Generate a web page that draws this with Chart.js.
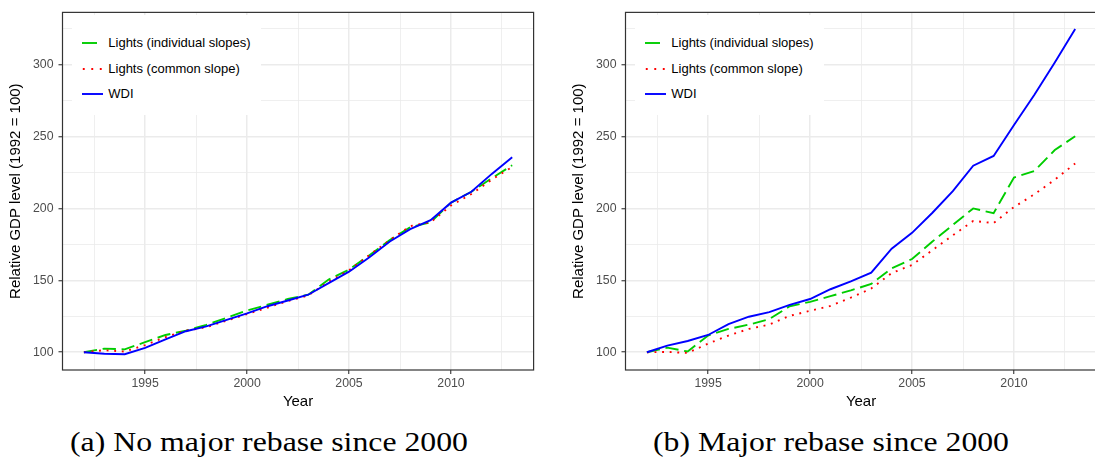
<!DOCTYPE html>
<html>
<head>
<meta charset="utf-8">
<script src="https://cdn.jsdelivr.net/npm/chart.js@4.4.0/dist/chart.umd.min.js"></script>
<style>
html,body{margin:0;padding:0;background:#fff;}
body{width:1095px;height:461px;overflow:hidden;position:relative;font-family:"Liberation Sans",Arial,sans-serif;}
.panel{position:absolute;top:0;height:412px;}
.legend{position:absolute;background:#fff;}
.key{position:absolute;}
.ltext{position:absolute;font-size:13px;line-height:16px;color:#000;white-space:nowrap;}
.cap{position:absolute;font-family:"Liberation Serif","Times New Roman",serif;font-size:27px;line-height:27px;color:#000;white-space:nowrap;transform-origin:0 0;}
</style>
</head>
<body>
<div class="panel" id="pA" style="left:0;width:550px;"><canvas id="cA" width="550" height="412"></canvas></div>
<div class="panel" id="pB" style="left:550px;width:548px;"><canvas id="cB" width="548" height="412"></canvas></div>
<div class="cap" id="capA" style="left:70px;top:429px;">(a) No major rebase since 2000</div>
<div class="cap" id="capB" style="left:653px;top:429px;">(b) Major rebase since 2000</div>
<script>
// ---- data ----
const years = [1992,1993,1994,1995,1996,1997,1998,1999,2000,2001,2002,2003,2004,2005,2006,2007,2008,2009,2010,2011,2012,2013];

// Panel (a): No major rebase since 2000
const wdiA = [100,98.9,98.6,103,109,114.6,118,122.5,127,132,136,140,148,156,166,177,185.6,191.8,204,211.6,224,235.6];
const indA = [100,102.5,102,107,112,115,119,124,129,133,137,140,150.5,157.5,167.5,178,187,190.4,204,211.6,221,230];
const comA = [100,101.4,100.5,105,110.5,115,117.4,122,126.5,131,135.6,139.5,149,157,167.6,178,187.7,190.4,202,210,220,228.8];

// Panel (b): Major rebase since 2000
const wdiB = [100,104.6,107.8,112,119.6,124.7,127.9,132.9,137,143.8,149.3,155.3,172,183,197,212,229.7,236.5,258,279,301.5,324.7];
const indB = [100,103.2,100.5,111.6,116.2,119.2,123,132,135,139,143,147.5,158.4,164.8,177,188.5,200,196.7,221.5,226,240.6,250.2];
const comB = [100,100.2,99.5,106,111.6,116.2,119.2,125.3,128.8,132.2,138,144.3,155,160.7,171,181.3,191.3,189.8,201,209.8,220,231.2];

const seriesNames = ["Lights (individual slopes)","Lights (common slope)","WDI"];
const xTicks = [1995,2000,2005,2010];
const xMinor = [1992.5,1997.5,2002.5,2007.5,2012.5];
const yTicks = [100,150,200,250,300];
const yMinor = [125,175,225,275,325];
const xLimits = [1990.95, 2014.05];
const yLimits = [87.65, 336.3];
const xTitle = "Year";
const yTitle = "Relative GDP level (1992 = 100)";
const captions = ["(a) No major rebase since 2000","(b) Major rebase since 2000"];

// ---- styles ----
const GREEN = "#00CD00", RED = "#FF0000", BLUE = "#0000FF";
const LW = 1.9;

const panelBorder = {
  id: "panelBorder",
  afterDatasetsDraw(chart) {
    const {ctx, chartArea: a} = chart;
    ctx.save();
    ctx.strokeStyle = "#333333";
    ctx.lineWidth = 1.2;
    ctx.strokeRect(a.left, a.top, a.right - a.left, a.bottom - a.top);
    ctx.restore();
  }
};

function pts(vals) { return years.map((y, i) => ({x: y, y: vals[i]})); }

function makeChart(id, ind, com, wdi, yAxisWidth, padRight, yTitlePad) {
  const xAll = xTicks.concat(xMinor).sort((a, b) => a - b);
  const yAll = yTicks.concat(yMinor).sort((a, b) => a - b);
  return new Chart(document.getElementById(id), {
    type: "line",
    data: {
      datasets: [
        {label: seriesNames[2], data: pts(wdi), borderColor: BLUE, borderWidth: LW, pointRadius: 0, fill: false, tension: 0, borderCapStyle: "butt"},
        {label: seriesNames[1], data: pts(com), borderColor: RED, borderWidth: LW, borderDash: [1.9, 5.7], pointRadius: 0, fill: false, tension: 0, borderCapStyle: "butt"},
        {label: seriesNames[0], data: pts(ind), borderColor: GREEN, borderWidth: LW, borderDash: [13.3, 5.7], pointRadius: 0, fill: false, tension: 0, borderCapStyle: "butt"}
      ]
    },
    options: {
      responsive: false,
      animation: false,
      events: [],
      layout: {padding: {top: 7.3, right: padRight, bottom: 0, left: 0}},
      plugins: {legend: {display: false}, tooltip: {enabled: false}},
      scales: {
        x: {
          type: "linear",
          min: xLimits[0], max: xLimits[1],
          afterBuildTicks: s => { s.ticks = xAll.map(v => ({value: v})); },
          afterFit: s => { s.height = 42; },
          border: {display: false},
          grid: {
            color: "#EBEBEB",
            lineWidth: c => xTicks.includes(c.tick && c.tick.value) ? 1.5 : 0.8,
            tickLength: 4,
            tickWidth: 1.1,
            tickColor: c => xTicks.includes(c.tick && c.tick.value) ? "#333333" : "rgba(0,0,0,0)"
          },
          ticks: {
            autoSkip: false, maxRotation: 0, minRotation: 0, padding: 2,
            color: "#4D4D4D",
            font: {family: "'Liberation Sans', Arial, sans-serif", size: 12.3},
            callback: v => xTicks.includes(v) ? String(v) : ""
          },
          title: {display: true, text: xTitle, color: "#000", font: {family: "'Liberation Sans', Arial, sans-serif", size: 15}, padding: {top: 0, bottom: 1.3}}
        },
        y: {
          type: "linear",
          min: yLimits[0], max: yLimits[1],
          afterBuildTicks: s => { s.ticks = yAll.map(v => ({value: v})); },
          afterFit: s => { s.width = yAxisWidth; },
          border: {display: false},
          grid: {
            color: "#EBEBEB",
            lineWidth: c => yTicks.includes(c.tick && c.tick.value) ? 1.5 : 0.8,
            tickLength: 4,
            tickWidth: 1.1,
            tickColor: c => yTicks.includes(c.tick && c.tick.value) ? "#333333" : "rgba(0,0,0,0)"
          },
          ticks: {
            autoSkip: false, padding: 5,
            color: "#4D4D4D",
            font: {family: "'Liberation Sans', Arial, sans-serif", size: 12.3},
            callback: v => yTicks.includes(v) ? String(v) : ""
          },
          title: {display: true, text: yTitle, color: "#000", font: {family: "'Liberation Sans', Arial, sans-serif", size: 15}, padding: {top: yTitlePad, bottom: 0}}
        }
      }
    },
    plugins: [panelBorder]
  });
}

makeChart("cA", indA, comA, wdiA, 62.5, 16.4, 7.3);
makeChart("cB", indB, comB, wdiB, 75.5, 1.4, 19.7);

// ---- legends (HTML overlay, white box as in ggplot) ----
function addLegend(panelId, boxLeft) {
  const p = document.getElementById(panelId);
  const box = document.createElement("div");
  box.className = "legend";
  box.style.left = boxLeft + "px"; box.style.top = "15px";
  box.style.width = "189px"; box.style.height = "100px";
  p.appendChild(box);
  const rows = [
    {name: seriesNames[0], color: GREEN, dash: "15 6", off: 0, cy: 28.3},
    {name: seriesNames[1], color: RED, dash: "1.9 6.6", off: -0.8, cy: 54.3},
    {name: seriesNames[2], color: BLUE, dash: "", off: 0, cy: 79.3}
  ];
  rows.forEach(r => {
    const ns = "http://www.w3.org/2000/svg";
    const svg = document.createElementNS(ns, "svg");
    svg.setAttribute("width", "22"); svg.setAttribute("height", "6");
    svg.setAttribute("class", "key");
    svg.style.left = "10px"; svg.style.top = (r.cy - 3) + "px";
    const ln = document.createElementNS(ns, "line");
    ln.setAttribute("x1", "0"); ln.setAttribute("x2", "21");
    ln.setAttribute("y1", "3"); ln.setAttribute("y2", "3");
    ln.setAttribute("stroke", r.color); ln.setAttribute("stroke-width", "1.9");
    if (r.dash) { ln.setAttribute("stroke-dasharray", r.dash); ln.setAttribute("stroke-dashoffset", String(r.off)); }
    svg.appendChild(ln);
    box.appendChild(svg);
    const t = document.createElement("div");
    t.className = "ltext";
    t.style.left = "36.6px"; t.style.top = (r.cy - 8.5) + "px";
    t.textContent = r.name;
    box.appendChild(t);
  });
}
addLegend("pA", 71.7);
addLegend("pB", 84.7);

// ---- captions: stretch Liberation Serif to the Computer Modern width ----
function fitCaption(id, text, targetWidth) {
  const el = document.getElementById(id);
  el.textContent = text;
  const w = el.getBoundingClientRect().width;
  el.style.transform = "scaleX(" + (targetWidth / w) + ")";
}
fitCaption("capA", captions[0], 398);
fitCaption("capB", captions[1], 356);
</script>
</body>
</html>
